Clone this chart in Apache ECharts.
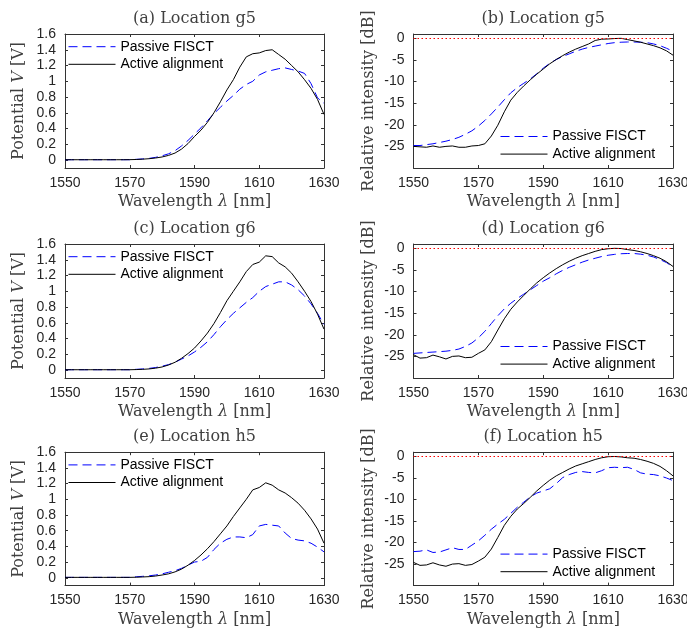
<!DOCTYPE html>
<html><head><meta charset="utf-8">
<script src="https://cdn.jsdelivr.net/npm/echarts@6/dist/echarts.min.js"></script>
<style>html,body{margin:0;padding:0;background:#fff}#c{width:687px;height:639px}</style>
</head><body><div id="c"></div>
<script>
// ---------------- data ----------------
const wavelength = [1550,1552,1554,1556,1558,1560,1562,1564,1566,1568,1570,1572,1574,1576,1578,1580,1582,1584,1586,1588,1590,1592,1594,1596,1598,1600,1602,1604,1606,1608,1610,1612,1614,1616,1618,1620,1622,1624,1626,1628,1630];
const xTicks = [1550,1570,1590,1610,1630];
const vTicks = [0,0.2,0.4,0.6,0.8,1,1.2,1.4,1.6];
const dbTicks = [-25,-20,-15,-10,-5,0];
const titles = ['(a) Location g5','(b) Location g5','(c) Location g6','(d) Location g6','(e) Location h5','(f) Location h5'];
const seriesNames = ['Passive FISCT','Active alignment'];

const activeA = [0.005,0.005,0.005,0.005,0.005,0.005,0.005,0.005,0.005,0.005,0.006,0.008,0.012,0.018,0.027,0.04,0.06,0.09,0.14,0.21,0.3,0.38,0.48,0.6,0.74,0.89,1.02,1.18,1.31,1.35,1.36,1.39,1.40,1.34,1.28,1.2,1.12,1.02,0.91,0.77,0.58];
const passiveA = [0.005,0.005,0.005,0.005,0.005,0.005,0.005,0.005,0.005,0.005,0.005,0.01,0.015,0.022,0.035,0.055,0.08,0.12,0.18,0.25,0.33,0.41,0.5,0.59,0.67,0.75,0.82,0.9,0.96,1.0,1.08,1.12,1.14,1.16,1.17,1.15,1.13,1.1,0.97,0.79,0.72];
const activeB = [-25.0,-25.1,-25.2,-24.9,-25.2,-25.0,-24.9,-25.2,-25.2,-24.9,-24.8,-24.4,-22.6,-20.1,-17.0,-14.3,-12.5,-11.0,-9.6,-8.3,-7.1,-5.9,-4.9,-4.0,-3.2,-2.5,-1.9,-1.3,-0.5,-0.2,-0.15,-0.05,0,-0.3,-0.6,-0.9,-1.3,-1.7,-2.2,-2.9,-3.9];
const passiveB = [-24.8,-24.8,-24.6,-24.4,-24.1,-23.8,-23.4,-22.9,-22.2,-21.4,-20.3,-19.0,-17.5,-15.9,-14.2,-12.6,-11.4,-10.4,-9.4,-8.2,-6.9,-5.8,-4.9,-4.2,-3.6,-3.0,-2.5,-2.1,-1.8,-1.5,-1.2,-1.0,-0.9,-0.85,-0.85,-0.9,-1.0,-1.3,-1.7,-2.3,-3.0];
const activeC = [0.005,0.005,0.005,0.005,0.005,0.005,0.005,0.005,0.005,0.005,0.005,0.007,0.01,0.015,0.025,0.04,0.065,0.1,0.15,0.21,0.28,0.37,0.47,0.59,0.73,0.88,1.0,1.12,1.25,1.34,1.37,1.45,1.44,1.36,1.31,1.23,1.12,1.0,0.87,0.71,0.52];
const passiveC = [0.005,0.005,0.005,0.005,0.005,0.005,0.005,0.005,0.005,0.005,0.005,0.01,0.015,0.022,0.033,0.05,0.07,0.1,0.14,0.18,0.23,0.29,0.36,0.45,0.55,0.64,0.72,0.79,0.86,0.92,1.0,1.06,1.09,1.12,1.12,1.08,1.02,0.94,0.84,0.72,0.58];
const activeD = [-24.6,-25.4,-25.3,-24.7,-25.1,-25.6,-25.0,-24.9,-25.3,-25.2,-24.3,-23.5,-21.6,-18.9,-16.3,-14.1,-12.4,-10.9,-9.4,-8.0,-6.8,-5.7,-4.7,-3.8,-3.0,-2.3,-1.7,-1.2,-0.7,-0.3,-0.1,0,-0.05,-0.3,-0.5,-0.8,-1.2,-1.7,-2.3,-3.1,-4.2];
const passiveD = [-24.3,-24.2,-24.1,-24.0,-23.9,-23.8,-23.6,-23.3,-22.7,-21.9,-20.7,-19.2,-17.4,-15.6,-14.0,-12.7,-11.6,-10.6,-9.6,-8.6,-7.6,-6.8,-5.9,-5.1,-4.4,-3.8,-3.2,-2.7,-2.3,-1.9,-1.6,-1.4,-1.25,-1.2,-1.2,-1.35,-1.6,-2.0,-2.6,-3.3,-4.3];
const activeE = [0.005,0.005,0.005,0.005,0.005,0.005,0.005,0.005,0.005,0.005,0.005,0.007,0.01,0.014,0.022,0.035,0.05,0.075,0.11,0.16,0.22,0.29,0.37,0.46,0.56,0.66,0.78,0.89,1.0,1.12,1.15,1.21,1.18,1.12,1.08,1.02,0.95,0.86,0.75,0.62,0.44];
const passiveE = [0.005,0.005,0.005,0.005,0.005,0.005,0.005,0.005,0.005,0.005,0.005,0.012,0.018,0.025,0.035,0.05,0.07,0.09,0.12,0.16,0.2,0.21,0.26,0.36,0.44,0.49,0.52,0.52,0.51,0.55,0.66,0.68,0.67,0.66,0.57,0.5,0.48,0.47,0.44,0.39,0.33];
const activeF = [-24.6,-25.3,-25.2,-24.7,-25.2,-25.5,-25.0,-24.9,-25.3,-25.1,-24.3,-23.4,-21.5,-18.8,-16.0,-13.9,-12.2,-10.9,-9.5,-8.0,-6.7,-5.5,-4.5,-3.7,-2.9,-2.2,-1.7,-1.2,-0.7,-0.3,-0.05,0,-0.1,-0.3,-0.4,-0.7,-1.1,-1.6,-2.3,-3.3,-4.5];
const passiveF = [-22.1,-22.0,-21.7,-22.3,-22.2,-21.7,-21.2,-21.6,-21.6,-20.6,-19.6,-18.3,-16.9,-15.7,-14.6,-13.2,-11.8,-10.6,-9.4,-8.5,-8.0,-7.5,-6.3,-4.9,-4.2,-3.7,-3.5,-3.7,-3.8,-3.3,-2.6,-2.5,-2.6,-2.5,-3.0,-3.8,-4.1,-4.2,-4.5,-5.0,-5.6];

// ---------------- layout ----------------
const panels = [
  {t: titles[0], p: passiveA, a: activeA, db: false},
  {t: titles[1], p: passiveB, a: activeB, db: true},
  {t: titles[2], p: passiveC, a: activeC, db: false},
  {t: titles[3], p: passiveD, a: activeD, db: true},
  {t: titles[4], p: passiveE, a: activeE, db: false},
  {t: titles[5], p: passiveF, a: activeF, db: true}
];
const L = [65, 413.5], W = [259, 259.5], T = [34, 244, 452.2], H = [134, 134, 133.4];
const AX = '#333';
const SANS = '"Liberation Sans", Arial, sans-serif';
const SERIF = '"DejaVu Serif", serif';
const nameStyle = {fontFamily: SERIF, fontSize: 16, color: '#404040',
  rich: {i: {fontFamily: SERIF, fontSize: 16, fontStyle: 'italic', color: '#404040'}}};
const plain = v => String(v);

const grid = [], xAxis = [], yAxis = [], series = [], legend = [], graphic = [];
panels.forEach((pn, i) => {
  const r = Math.floor(i / 2), c = i % 2;
  grid.push({left: L[c], top: T[r], width: W[c], height: H[r], containLabel: false, outerBoundsMode: 'none'});
  const yt = pn.db ? dbTicks : vTicks;
  const ymin = pn.db ? -30 : -0.1, ymax = pn.db ? 1 : 1.6;
  const line = {show: true, onZero: false, lineStyle: {color: AX, width: 1}};
  xAxis.push({gridIndex: i, type: 'value', min: 1550, max: 1630, position: 'bottom',
    axisLine: line, splitLine: {show: false},
    axisTick: {inside: true, length: 3, customValues: xTicks, lineStyle: {color: AX}},
    axisLabel: {customValues: xTicks, formatter: plain, fontFamily: SANS, fontSize: 14, color: '#262626', margin: 8},
    name: 'Wavelength {i|λ} [nm]', nameLocation: 'middle', nameGap: 26, nameTextStyle: nameStyle});
  xAxis.push({gridIndex: i, type: 'value', min: 1550, max: 1630, position: 'top',
    axisLine: line, splitLine: {show: false},
    axisTick: {inside: true, length: 3, customValues: xTicks, lineStyle: {color: AX}},
    axisLabel: {show: false}});
  yAxis.push({gridIndex: i, type: 'value', min: ymin, max: ymax, position: 'left',
    axisLine: line, splitLine: {show: false},
    axisTick: {inside: true, length: 3, customValues: yt, lineStyle: {color: AX}},
    axisLabel: {customValues: yt, formatter: plain, fontFamily: SANS, fontSize: 14, color: '#262626', margin: 9},
    name: pn.db ? 'Relative intensity [dB]' : 'Potential {i|V} [V]',
    nameLocation: 'middle', nameGap: pn.db ? 37 : 38, nameTextStyle: nameStyle});
  yAxis.push({gridIndex: i, type: 'value', min: ymin, max: ymax, position: 'right',
    axisLine: line, splitLine: {show: false},
    axisTick: {inside: true, length: 3, customValues: yt, lineStyle: {color: AX}},
    axisLabel: {show: false}});

  series.push({type: 'line', name: seriesNames[0], xAxisIndex: 2 * i, yAxisIndex: 2 * i,
    data: wavelength.map((x, k) => [x, pn.p[k]]), symbol: 'none', silent: true,
    emphasis: {disabled: true}, itemStyle: {color: '#0000ff'},
    lineStyle: {color: '#0000ff', width: 1, type: [9, 5]}, z: 3});
  if (pn.db) {
    // 0 dB reference line, drawn through the axis scale
    series.push({type: 'line', name: '0 dB', xAxisIndex: 2 * i, yAxisIndex: 2 * i,
      data: [], silent: true, symbol: 'none', z: 2,
      markLine: {silent: true, symbol: 'none', animation: false, label: {show: false},
        emphasis: {disabled: true}, precision: 2,
        lineStyle: {color: '#ff0000', width: 1, type: [1.5, 2.5], opacity: 1},
        data: [{yAxis: 0}]}});
  }
  series.push({type: 'line', name: seriesNames[1], xAxisIndex: 2 * i, yAxisIndex: 2 * i,
    data: wavelength.map((x, k) => [x, pn.a[k]]), symbol: 'none', silent: true,
    emphasis: {disabled: true}, itemStyle: {color: '#000'},
    lineStyle: {color: '#000', width: 1}, z: 4});

  const lineY = pn.db ? T[r] + H[r] - 31.5 : T[r] + 12.7;
  legend.push({orient: 'vertical', left: pn.db ? 500 : 68, top: lineY - 7, padding: 0,
    itemWidth: 47, itemHeight: 14, itemGap: 3.6, selectedMode: false,
    itemStyle: {opacity: 0, borderWidth: 0},
    lineStyle: {width: 1},
    textStyle: {fontFamily: SANS, fontSize: 14, color: '#000'},
    data: seriesNames});

  graphic.push({type: 'text', x: L[c] + W[c] / 2, y: T[r] - 15.5, silent: true,
    style: {text: pn.t, font: '16px ' + SERIF, fill: '#404040', align: 'center', verticalAlign: 'middle'}});
});

const chart = echarts.init(document.getElementById('c'), null, {renderer: 'canvas'});
chart.setOption({animation: false, backgroundColor: '#fff', grid, xAxis, yAxis, series, legend, graphic});
</script>
</body></html>
